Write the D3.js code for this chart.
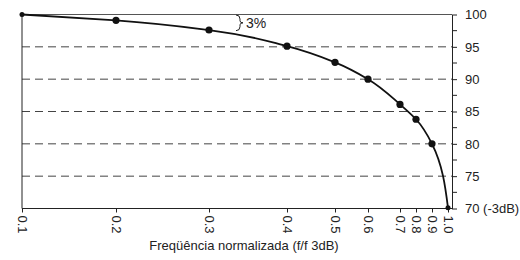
<!DOCTYPE html>
<html>
<head>
<meta charset="utf-8">
<script src="https://cdn.jsdelivr.net/npm/d3@7"></script>
<style>
  html, body { margin: 0; padding: 0; background: #fff; }
  svg { display: block; font-family: "Liberation Sans", Arial, sans-serif; }
</style>
</head>
<body>
<svg id="chart" width="520" height="260"></svg>
<script>
// ---- data ----
const freqs = [0.1, 0.2, 0.3, 0.4, 0.5, 0.6, 0.7, 0.8, 0.9, 1.0];
const percent = [100, 99.1, 97.6, 95.1, 92.6, 90.0, 86.1, 83.8, 80.0, 70.1];
const xTickLabels = ["0.1", "0.2", "0.3", "0.4", "0.5", "0.6", "0.7", "0.8", "0.9", "1.0"];
const yTicks = [70, 75, 80, 85, 90, 95, 100];
const yMinorTicks = [72.5, 77.5, 82.5, 87.5, 92.5, 97.5];
const gridValues = [75, 80, 85, 90, 95];
const xTitle = "Freqüência normalizada (f/f 3dB)";
const braceLabel = "3%";
const braceRange = [100, 97.5];

// ---- layout ----
const mLeft = 22, mRight = 452, mTop = 14.5, mBottom = 208.5;
// non-uniform axis: pixel offsets of each tick from left edge (as drawn in the original)
const xTickOffsets = [0, 94, 187, 265, 313, 346, 378, 394, 410, 426];

const svg = d3.select("#chart");
const x = d3.scaleLinear().domain(freqs).range(xTickOffsets.map(d => mLeft + d));
const y = d3.scaleLinear().domain([70, 100]).range([mBottom, mTop]);

// grid lines
svg.append("g").selectAll("line").data(gridValues).join("line")
  .attr("x1", mLeft).attr("x2", mRight)
  .attr("y1", d => y(d)).attr("y2", d => y(d))
  .attr("stroke", "#444").attr("stroke-width", 1)
  .attr("stroke-dasharray", "8,5");

// frame: top and left
svg.append("line").attr("x1", mLeft).attr("x2", mRight).attr("y1", mTop).attr("y2", mTop)
  .attr("stroke", "#555").attr("stroke-width", 1);
svg.append("line").attr("x1", mLeft).attr("x2", mLeft).attr("y1", mTop).attr("y2", mBottom)
  .attr("stroke", "#222").attr("stroke-width", 1);

// bottom axis
const xAxis = d3.axisBottom(x).tickValues(freqs).tickFormat((d, i) => xTickLabels[i])
  .tickSize(4).tickSizeOuter(0);
const gx = svg.append("g").attr("transform", `translate(0,${mBottom})`).call(xAxis);
gx.select(".domain").attr("d", `M${mLeft},0H${mRight}`).attr("stroke", "#222");
gx.selectAll(".tick line").attr("stroke", "#222");
gx.selectAll(".tick text")
  .attr("transform", "rotate(90)")
  .attr("x", 7).attr("y", 0).attr("dy", "0.35em")
  .attr("text-anchor", "start")
  .attr("font-size", 13).attr("fill", "#222")
  .attr("font-family", "Liberation Sans, Arial, sans-serif");

// right axis
const yAxis = d3.axisRight(y).tickValues(yTicks)
  .tickFormat(d => d === 70 ? "70 (-3dB)" : d).tickSize(5).tickSizeOuter(0).tickPadding(8);
const gy = svg.append("g").attr("transform", `translate(${mRight},0)`).call(yAxis);
gy.select(".domain").attr("stroke", "#222");
gy.selectAll(".tick line").attr("stroke", "#222");
gy.selectAll(".tick text").attr("font-size", 13).attr("fill", "#222")
  .attr("font-family", "Liberation Sans, Arial, sans-serif");
svg.append("g").selectAll("line").data(yMinorTicks).join("line")
  .attr("x1", mRight).attr("x2", mRight + 5)
  .attr("y1", d => y(d)).attr("y2", d => y(d))
  .attr("stroke", "#222");

// curve
const pts = freqs.map((f, i) => [x(f), y(percent[i])]);
svg.append("path").datum(pts)
  .attr("d", d3.line().curve(d3.curveMonotoneY))
  .attr("fill", "none").attr("stroke", "#111").attr("stroke-width", 1.8);

// markers
svg.append("g").selectAll("circle").data(pts).join("circle")
  .attr("cx", d => d[0]).attr("cy", d => d[1])
  .attr("r", (d, i) => (i === 0 || i === pts.length - 1) ? 2.5 : 3.6)
  .attr("fill", "#111");

// brace annotation
const bx = 240, by0 = y(braceRange[0]) + 0.5, by1 = y(braceRange[1]);
const bm = (by0 + by1) / 2;
svg.append("path")
  .attr("d", `M${bx-4},${by0} Q${bx},${by0} ${bx},${by0+4} L${bx},${bm-2} Q${bx},${bm} ${bx+3},${bm} Q${bx},${bm} ${bx},${bm+2} L${bx},${by1-4} Q${bx},${by1} ${bx-4},${by1}`)
  .attr("fill", "none").attr("stroke", "#222").attr("stroke-width", 1);
svg.append("text").attr("x", bx + 6).attr("y", bm + 5)
  .attr("font-size", 14).attr("fill", "#222").text(braceLabel);

// x title
svg.append("text").attr("x", 244).attr("y", 250).attr("text-anchor", "middle")
  .attr("font-size", 13).attr("fill", "#222").text(xTitle);
</script>
</body>
</html>
